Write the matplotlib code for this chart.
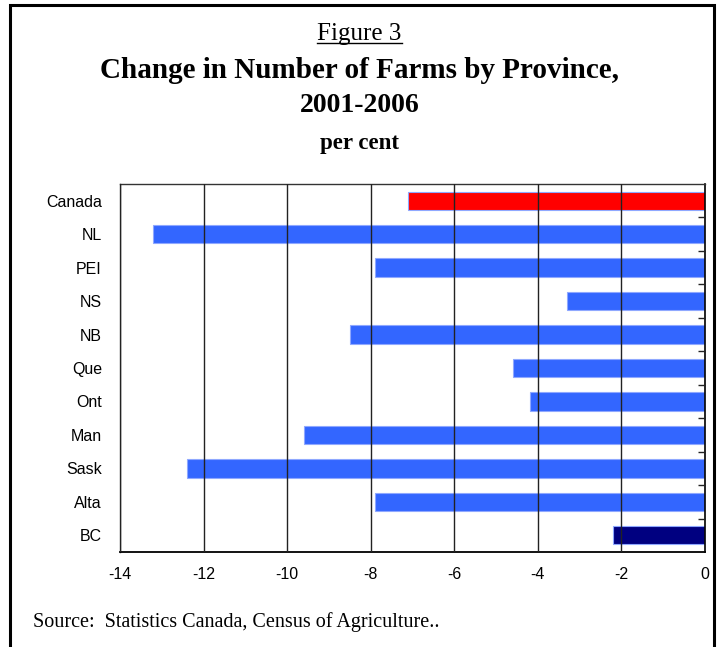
import matplotlib.pyplot as plt
import numpy as np
from matplotlib.lines import Line2D
from matplotlib.patches import Rectangle

# data (per cent change 2001-2006)
provinces = ['Canada', 'NL', 'PEI', 'NS', 'NB', 'Que', 'Ont', 'Man', 'Sask', 'Alta', 'BC']
change = [-7.1, -13.2, -7.9, -3.3, -8.5, -4.6, -4.2, -9.6, -12.4, -7.9, -2.2]
xticks = [-14, -12, -10, -8, -6, -4, -2, 0]

colors = ['#ff0000'] + ['#3366ff'] * 9 + ['#000080']

fig = plt.figure(figsize=(7.19, 6.47), dpi=100)
ax = fig.add_axes([120/719, 1 - 552/647, 585/719, 368/647])

y = np.arange(len(provinces))
ax.barh(y, change, height=0.55, color=colors, edgecolor='#8fa8ff', linewidth=0.8, zorder=2)

ax.set_xlim(-14, 0)
ax.set_ylim(len(provinces) - 0.5, -0.5)
ax.set_xticks(xticks)
ax.set_xticklabels([str(t) for t in xticks], fontfamily='Liberation Sans', fontsize=11.5)
ax.set_yticks(y)
ax.set_yticklabels(provinces, fontfamily='Liberation Sans', fontsize=11.5)
ax.tick_params(axis='x', length=0, pad=11)
ax.tick_params(axis='y', length=0, pad=13)
# small marks on the right side between categories
ax.set_yticks(np.arange(0.5, len(provinces) - 1, 1), minor=True)
ax.tick_params(axis='y', which='minor', left=False, right=True, direction='in', length=5, width=1, color='#222222')

ax.grid(axis='x', color='#222222', linewidth=1, zorder=1)
ax.set_axisbelow(False)
for s in ['top', 'left']:
    ax.spines[s].set_color('#333333')
    ax.spines[s].set_linewidth(1)
ax.spines['right'].set_color('black')
ax.spines['right'].set_linewidth(1.2)
ax.spines['bottom'].set_color('black')
ax.spines['bottom'].set_linewidth(1.3)

serif = 'Liberation Serif'
t1 = fig.text(0.5, 1 - 34/647, 'Figure 3', ha='center', va='center', fontfamily=serif, fontsize=18)
fig.text(0.5, 1 - 70/647, 'Change in Number of Farms by Province,', ha='center', va='center',
         fontfamily=serif, fontsize=21, fontweight='bold')
fig.text(0.5, 1 - 106/647, '2001-2006', ha='center', va='center',
         fontfamily=serif, fontsize=20, fontweight='bold')
fig.text(0.5, 1 - 143/647, 'per cent', ha='center', va='center',
         fontfamily=serif, fontsize=16.5, fontweight='bold')
fig.text(33/719, 1 - 622/647, 'Source:  Statistics Canada, Census of Agriculture..', ha='left', va='center',
         fontfamily=serif, fontsize=14.5)

# underline for "Figure 3"
fig.canvas.draw()
bb = t1.get_window_extent().transformed(fig.transFigure.inverted())
fig.add_artist(Line2D([bb.x0, bb.x1], [bb.y0 + 0.003, bb.y0 + 0.003], color='black', linewidth=1))

# outer frame
fig.add_artist(Rectangle((10/719, -0.01), 704/719, 1 - 5/647 + 0.01, transform=fig.transFigure,
                         fill=False, edgecolor='black', linewidth=2.2))

fig.savefig('out.png', dpi=100)
